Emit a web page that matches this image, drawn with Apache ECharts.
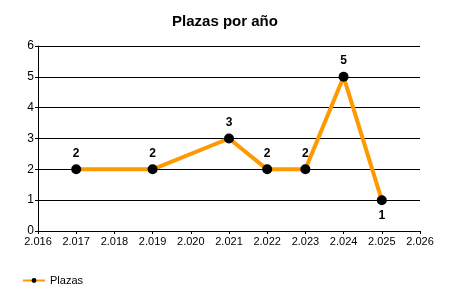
<!DOCTYPE html>
<html><head><meta charset="utf-8">
<script src="https://cdn.jsdelivr.net/npm/echarts@6/dist/echarts.min.js"></script>
<style>html,body{margin:0;padding:0;background:#fff}#c{width:450px;height:300px}</style>
</head><body><div id="c"></div>
<script>
const years = [2017, 2019, 2021, 2022, 2023, 2024, 2025];
const plazas = [2, 2, 3, 2, 2, 5, 1];
const labelBelow = [false, false, false, false, false, false, true];
const seriesName = 'Plazas';
const titleText = 'Plazas por año';

const font = '"Liberation Sans", Arial, sans-serif';
const chart = echarts.init(document.getElementById('c'), null, {renderer: 'canvas'});
chart.setOption({
  animation: false,
  backgroundColor: '#fff',
  title: {text: titleText, left: 'center', top: 9, textStyle: {fontFamily: font, fontSize: 15, fontWeight: 'bold', color: '#000'}},
  legend: {left: 17, top: 270, itemWidth: 22, itemHeight: 6, itemGap: 4,
    textStyle: {fontFamily: font, fontSize: 11, color: '#000'},
    data: [{name: seriesName}]},
  grid: {left: 38, right: 30, top: 46, bottom: 69},
  xAxis: {type: 'value', min: 2016, max: 2026, interval: 1,
    axisLine: {show: true, lineStyle: {color: '#000', width: 1}},
    axisTick: {show: true, length: 3, lineStyle: {color: '#000'}},
    splitLine: {show: false},
    axisLabel: {fontFamily: font, fontSize: 11, color: '#000', margin: 5,
      formatter: v => String(v).replace(/^(\d)(\d{3})$/, '$1.$2')}},
  yAxis: {type: 'value', min: 0, max: 6, interval: 1,
    axisLine: {show: true, lineStyle: {color: '#000', width: 1}},
    axisTick: {show: true, length: 3, lineStyle: {color: '#000'}},
    splitLine: {show: true, lineStyle: {color: '#000', width: 1}},
    axisLabel: {fontFamily: font, fontSize: 12, color: '#000', margin: 4}},
  series: [{
    name: seriesName, type: 'line',
    data: years.map((y, i) => ({value: [y, plazas[i]], label: {position: labelBelow[i] ? 'bottom' : 'top'}})),
    symbol: 'circle', symbolSize: 10,
    itemStyle: {color: '#000'},
    lineStyle: {color: '#FF9900', width: 4},
    label: {show: true, fontFamily: font, fontSize: 12, fontWeight: 'bold', color: '#000', distance: 5,
      formatter: p => p.value[1]},
    z: 3
  }]
});
</script></body></html>
